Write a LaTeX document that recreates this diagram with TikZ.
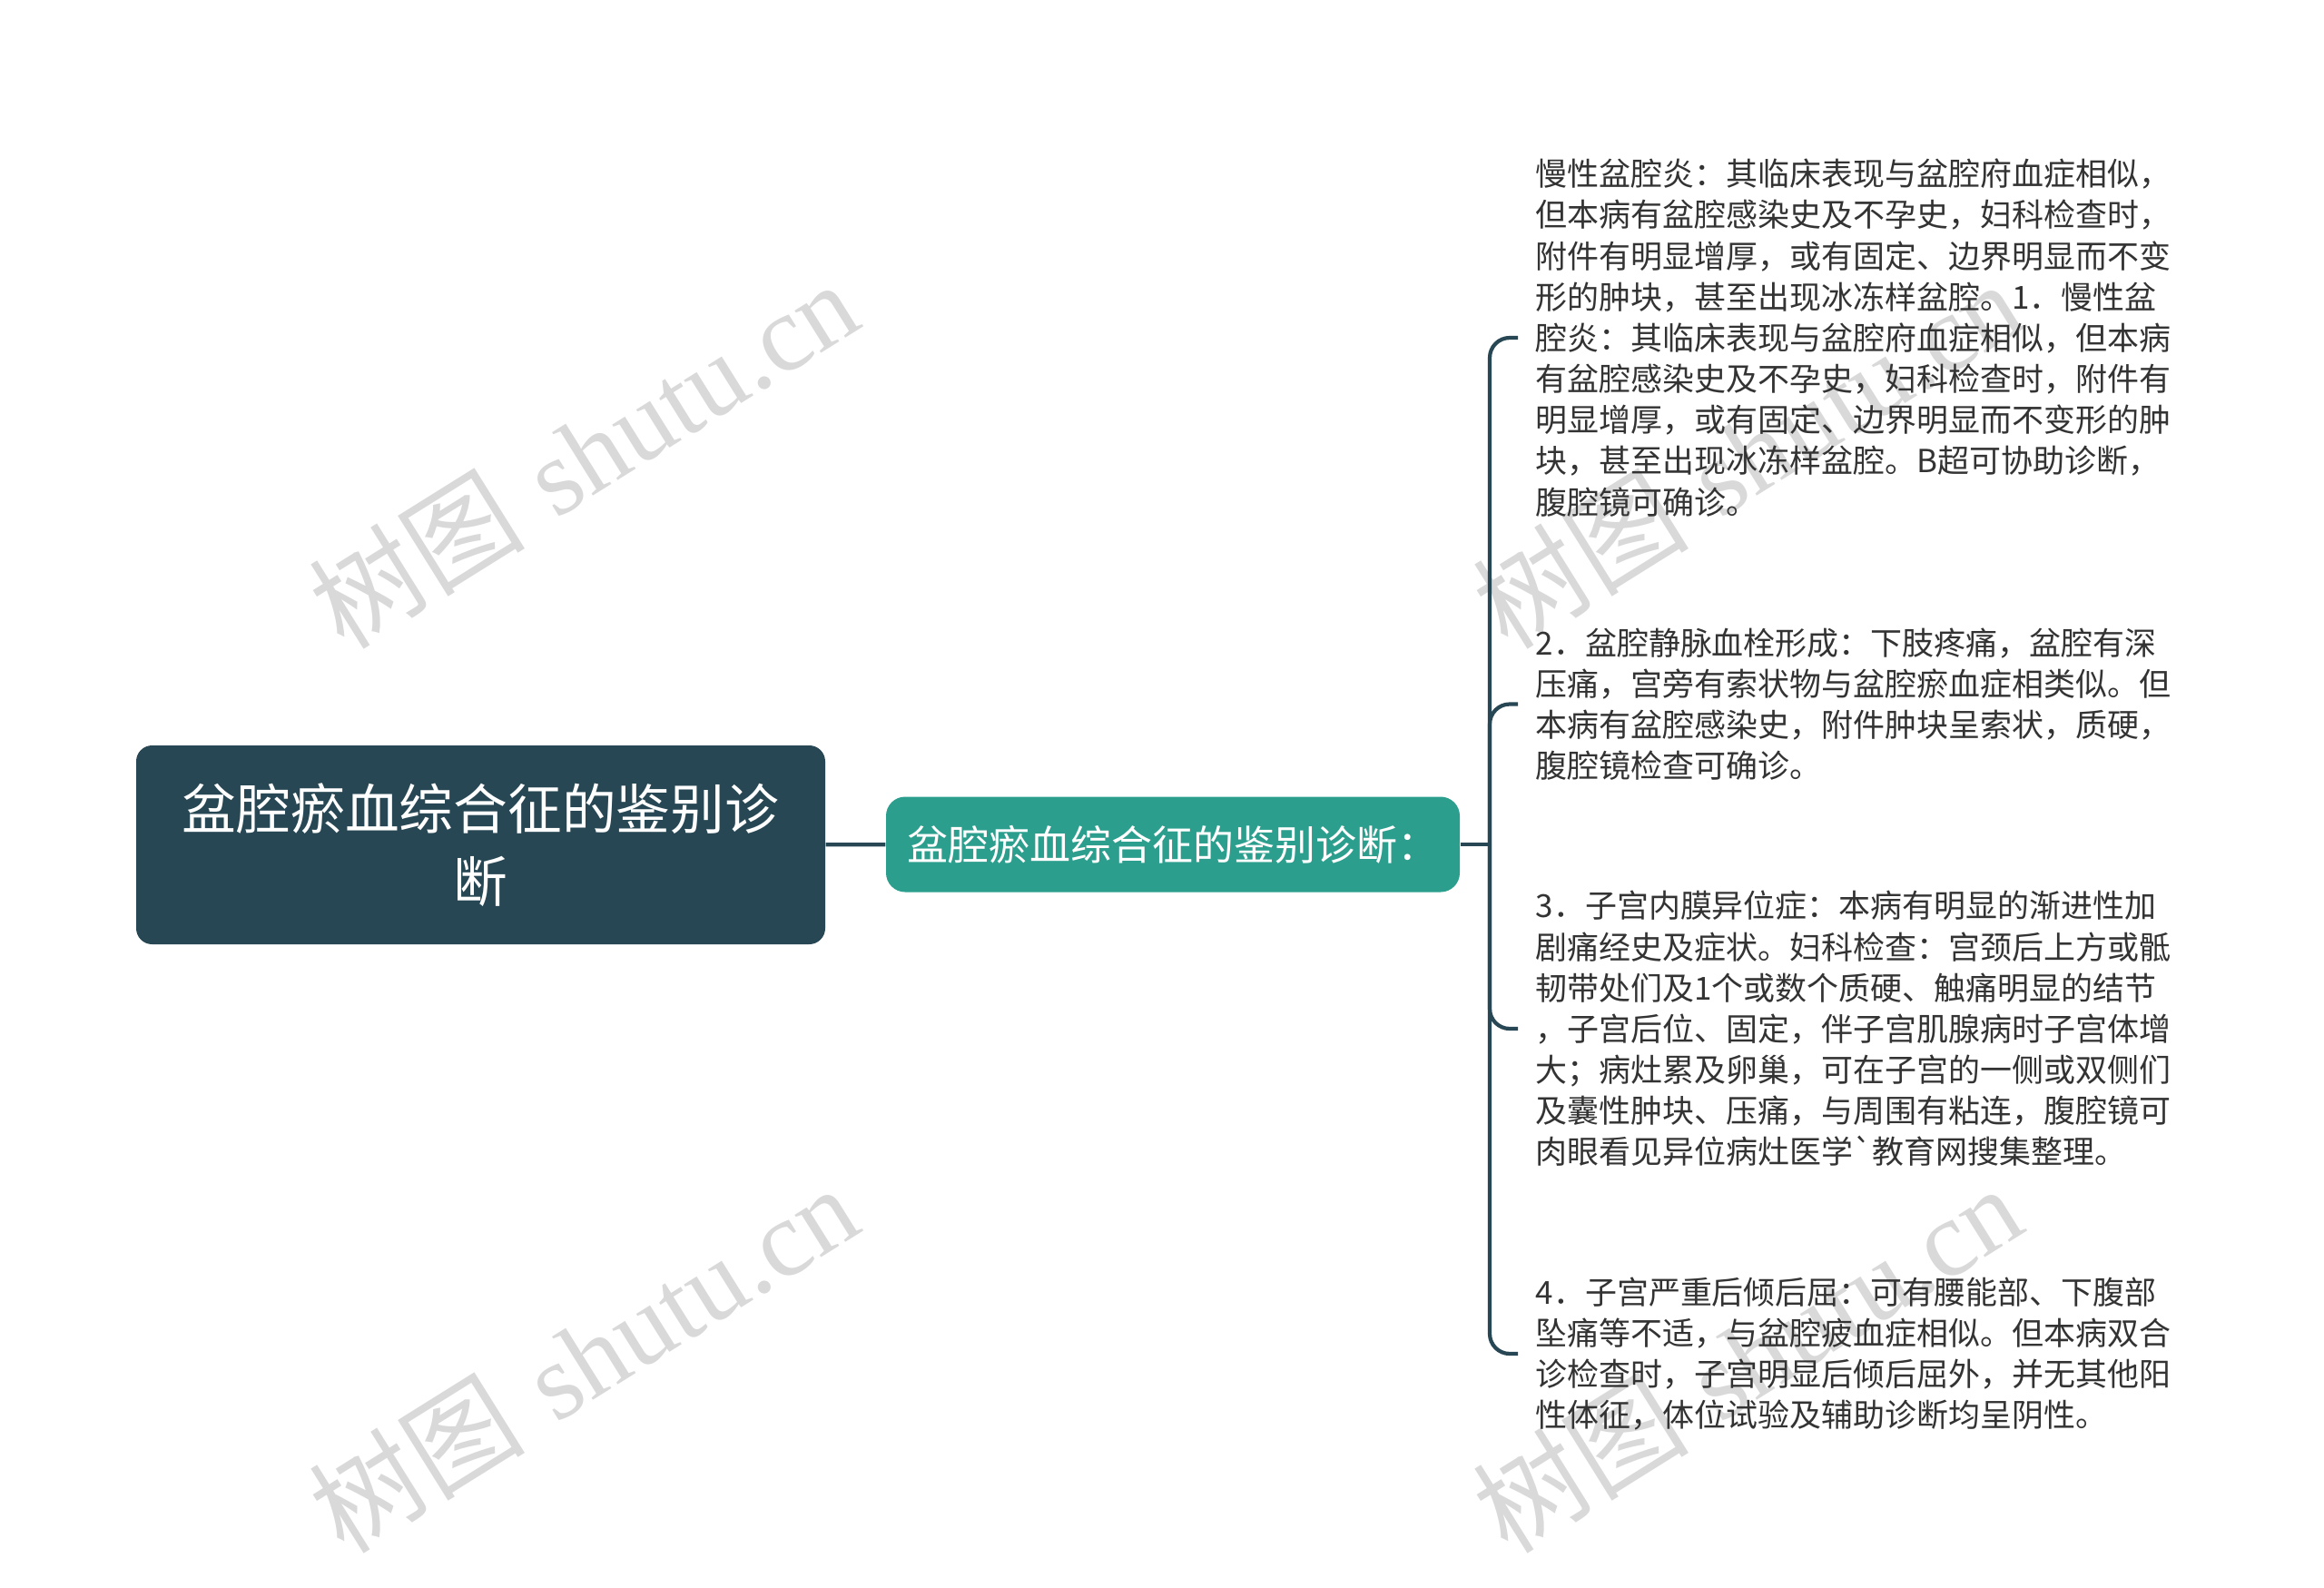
\documentclass[tikz,border=0pt]{standalone}
\usepackage{fontspec}
\newfontfamily\cjk{Noto Sans CJK SC}
\newfontfamily\wmlatin{Liberation Serif}
\definecolor{rootslate}{RGB}{39, 71, 84}
\definecolor{subteal}{RGB}{43, 158, 141}
\definecolor{leafgray}{RGB}{51, 51, 51}
\definecolor{wmgray}{RGB}{217, 217, 217}
\usetikzlibrary{positioning, calc}

\begin{document}
\begin{tikzpicture}[
  rootbox/.style={fill=rootslate, rounded corners=5pt, minimum width=7.59cm, minimum height=2.19cm, align=center, text=white, font=\cjk\fontsize{17}{22.7}\selectfont},
  subbox/.style={fill=subteal, rounded corners=6pt, minimum width=6.32cm, minimum height=1.05cm, text=white, font=\cjk\fontsize{12.8}{15}\selectfont},
  leafnote/.style={anchor=west, inner sep=0pt, align=left, text=leafgray, font=\cjk\fontsize{9.95}{12.85}\selectfont},
  branch/.style={draw=rootslate, line width=1.2pt, rounded corners=0.22cm},
  watermark/.style={rotate=32, text=wmgray, font=\fontsize{34}{38}\selectfont}
]
  \useasboundingbox (0,0) rectangle (25.6,-17.49);

  % Watermarks
  \node[watermark] (wm1) at (6.42, -5.0) {{\cjk 树图} {\wmlatin shutu.cn}};
  \node[watermark] (wm2) at (6.42, -14.96) {{\cjk 树图} {\wmlatin shutu.cn}};
  \node[watermark] (wm3) at (19.24, -5.0) {{\cjk 树图} {\wmlatin shutu.cn}};
  \node[watermark] (wm4) at (19.24, -14.96) {{\cjk 树图} {\wmlatin shutu.cn}};

  % Root and sub topic
  \node[rootbox] (root) at (5.295, -9.305) {盆腔瘀血综合征的鉴别诊\\断};
  \node[subbox] (sub) at (12.92, -9.3) {盆腔瘀血综合征的鉴别诊断：};
  \coordinate (hub) at (16.41, -9.3);

  % Leaf notes
  \node[leafnote] (t1) at (16.91, -3.72) {
    慢性盆腔炎：其临床表现与盆腔府血症相似，\\
    但本病有盆腔感染史及不孕史，妇科检查时，\\
    附件有明显增厚，或有固定、边界明显而不变\\
    形的肿块，甚至出现冰冻样盆腔。1．慢性盆\\
    腔炎：其临床表现与盆腔府血症相似，但本病\\
    有盆腔感染史及不孕史，妇科检查时，附件有\\
    明显增厚，或有固定、边界明显而不变形的肿\\
    块，甚至出现冰冻样盆腔。B超可协助诊断，\\
    腹腔镜可确诊。
  };

  \node[leafnote] (t2) at (16.91, -7.755) {
    2．盆腔静脉血栓形成：下肢疼痛，盆腔有深\\
    压痛，宫旁有索状物与盆腔瘀血症相类似。但\\
    本病有盆腔感染史，附件肿块呈索状，质硬，\\
    腹腔镜检查可确诊。
  };

  \node[leafnote] (t3) at (16.91, -11.33) {
    3．子宫内膜异位症：本病有明显的渐进性加\\
    剧痛经史及症状。妇科检查：宫颈后上方或骶\\
    韧带处们及1个或数个质硬、触痛明显的结节\\
    ，子宫后位、固定，伴子宫肌腺病时子宫体增\\
    大；病灶累及卵巢，可在子宫的一侧或双侧们\\
    及囊性肿块、压痛，与周围有粘连，腹腔镜可\\
    肉眼看见异位病灶医学`教育网搜集整理。
  };

  \node[leafnote] (t4) at (16.91, -14.91) {
    4．子宫严重后倾后屈：可有腰能部、下腹部\\
    坠痛等不适，与盆腔疲血症相似。但本病双合\\
    诊检查时，子宫明显后倾后屈外，并无其他阳\\
    性体征，体位试验及辅助诊断均呈阴性。
  };

  % Connectors
  \draw[branch] (root) -- (sub);
  \draw[branch] (sub) -- (hub);
  \foreach \leaf in {t1, t2, t3, t4}
    \draw[branch, shorten >=0.19cm] (hub) |- (\leaf.west);
\end{tikzpicture}
\end{document}
